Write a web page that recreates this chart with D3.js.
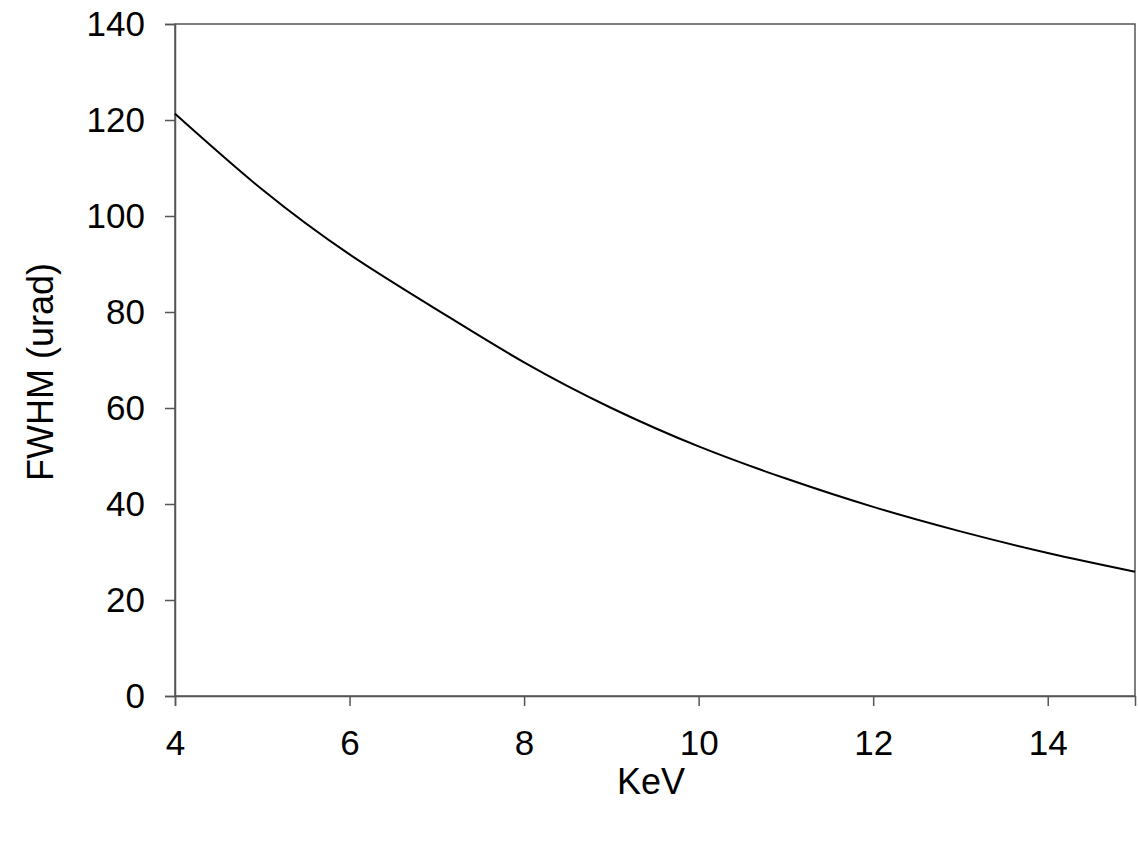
<!DOCTYPE html>
<html>
<head>
<meta charset="utf-8">
<script src="https://cdn.jsdelivr.net/npm/d3@7"></script>
<style>
body { margin: 0; background: #fff; }
text { font-family: "Liberation Sans", Arial, sans-serif; fill: #000; }
</style>
</head>
<body>
<svg id="chart"></svg>
<script>
// energy (keV) and FWHM (urad)
var kev = [4, 5, 6, 7, 8, 9, 10, 11, 12, 13, 14, 15];
var fwhm = [121.3, 105.5, 92, 80.5, 69.5, 60, 52, 45.3, 39.4, 34.3, 29.8, 25.9];
var xTicks = [4, 6, 8, 10, 12, 14];
var yTicks = [0, 20, 40, 60, 80, 100, 120, 140];

var screen = {width: 1138, height: 841};
var margins = {top: 24, right: 3, left: 175, bottom: 145};

var width = screen.width - margins.left - margins.right;
var height = screen.height - margins.top - margins.bottom;

var svg = d3.select("#chart")
    .attr("width", screen.width)
    .attr("height", screen.height);

var xScale = d3.scaleLinear().domain([4, 15]).range([0, width]);
var yScale = d3.scaleLinear().domain([0, 140]).range([height, 0]);

var graph = svg.append("g")
    .attr("transform", "translate(" + margins.left + "," + margins.top + ")");

// frame
graph.append("rect")
    .attr("width", width)
    .attr("height", height)
    .attr("fill", "none")
    .attr("stroke", "#555")
    .attr("stroke-width", 1.5);

var xAxis = d3.axisBottom(xScale).tickValues(xTicks).tickSize(10).tickPadding(24).tickFormat(d3.format("d"));
var yAxis = d3.axisLeft(yScale).tickValues(yTicks).tickSize(10).tickPadding(20).tickFormat(d3.format("d"));

var gx = graph.append("g")
    .attr("transform", "translate(0," + height + ")")
    .call(xAxis);
var gy = graph.append("g").call(yAxis);

[gx, gy].forEach(function(g) {
    g.select(".domain").attr("stroke", "#555").attr("stroke-width", 1.5);
    g.selectAll(".tick line").attr("stroke", "#555").attr("stroke-width", 1.5);
    g.selectAll("text").attr("font-size", 35).attr("font-family", "Liberation Sans, Arial, sans-serif").attr("fill", "#000");
});

var points = kev.map(function(k, i) { return {x: k, y: fwhm[i]}; });

var lineGenerator = d3.line()
    .x(function(d) { return xScale(d.x); })
    .y(function(d) { return yScale(d.y); })
    .curve(d3.curveNatural);

graph.append("path")
    .datum(points)
    .attr("d", lineGenerator)
    .attr("fill", "none")
    .attr("stroke", "#000")
    .attr("stroke-width", 2);

// axis titles
svg.append("text")
    .attr("x", 651)
    .attr("y", 794)
    .attr("text-anchor", "middle")
    .attr("font-size", 36)
    .text("KeV");

svg.append("text")
    .attr("transform", "translate(53,372) rotate(-90)")
    .attr("text-anchor", "middle")
    .attr("font-size", 36)
    .text("FWHM (urad)");
</script>
</body>
</html>
